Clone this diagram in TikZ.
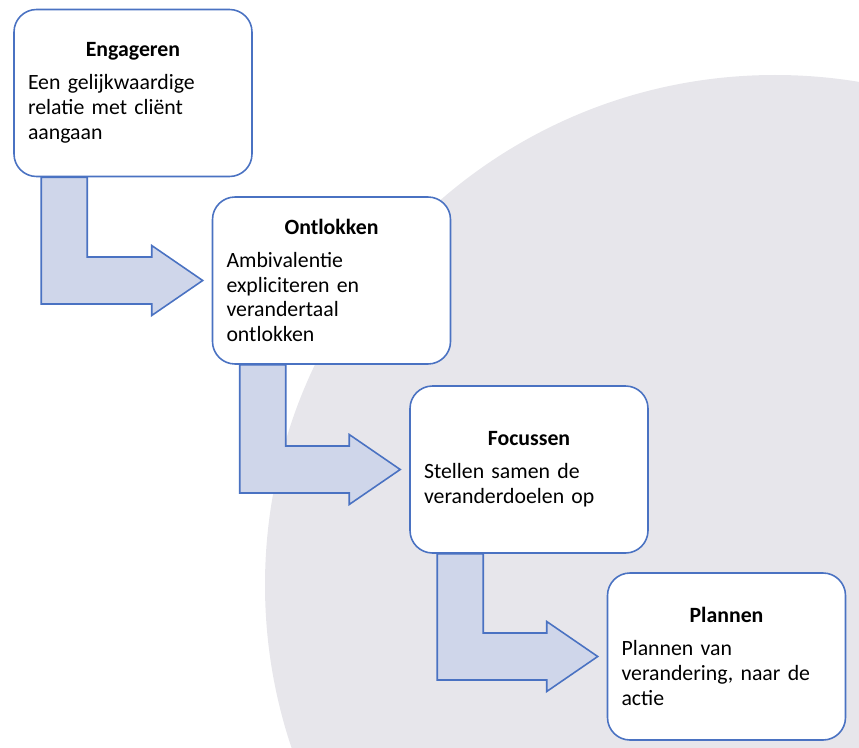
\documentclass[tikz,border=0pt]{standalone}
\usepackage{fontspec}
\setmainfont{Carlito}
\usetikzlibrary{calc,backgrounds}
\setlength{\parindent}{0pt}

\definecolor{boxblue}{HTML}{4A72C2}
\definecolor{arrowfill}{HTML}{CFD6EA}
\definecolor{discgray}{HTML}{E7E6EB}

\begin{document}
\begin{tikzpicture}[
  phase/.style={draw=boxblue,line width=0.9pt,fill=white,rounded corners=0.45cm,
    text width=4.2cm,inner xsep=0.28cm,inner ysep=2pt,minimum height=3.34cm,
    align=left,font=\fontsize{12.4}{14.2}\selectfont},
  flow/.style={draw=boxblue,line width=0.9pt,fill=arrowfill,line join=miter}
]
  \useasboundingbox (0,0) rectangle (17.18,14.94);

  \node[phase] (engageren) at (2.66,13.08) {{\centering\textbf{Engageren}\par}\vspace{4.5pt}Een gelijkwaardige\\relatie met cliënt\\aangaan};
  \node[phase] (ontlokken) at (6.63,9.33) {{\centering\textbf{Ontlokken}\par}\vspace{4.5pt}Ambivalentie\\expliciteren en\\verandertaal\\ontlokken};
  \node[phase] (focussen) at (10.58,5.55) {{\centering\textbf{Focussen}\par}\vspace{4.5pt}Stellen samen de\\veranderdoelen op};
  \node[phase] (plannen) at (14.53,1.81) {{\centering\textbf{Plannen}\par}\vspace{4.5pt}Plannen van\\verandering, naar de\\actie};

  \begin{scope}[on background layer]
    \clip (0,0) rectangle (17.18,14.94);
    \fill[discgray] (15.5,3.24) circle (10.2);
    % bent arrows from one phase to the next
    \foreach \from/\to in {engageren/ontlokken,ontlokken/focussen,focussen/plannen}
      \draw[flow] let \p1=(\from.south west), \p2=(\to.west) in
        (\x1+0.56cm,\y1) -- (\x1+1.48cm,\y1) -- (\x1+1.48cm,\y2+0.47cm)
        -- (\x2-1.2cm,\y2+0.47cm) -- (\x2-1.2cm,\y2+0.7cm) -- (\x2-0.18cm,\y2)
        -- (\x2-1.2cm,\y2-0.7cm) -- (\x2-1.2cm,\y2-0.47cm)
        -- (\x1+0.56cm,\y2-0.47cm) -- cycle;
  \end{scope}
\end{tikzpicture}
\end{document}
